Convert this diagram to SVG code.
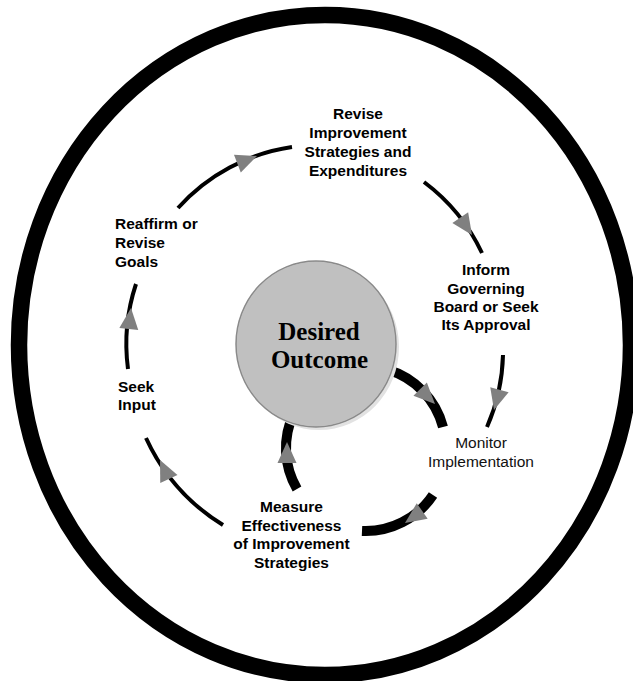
<svg xmlns="http://www.w3.org/2000/svg" xmlns:xlink="http://www.w3.org/1999/xlink" width="633" height="681" viewBox="0 0 633 681">
<style>
.lbl{font-family:"Liberation Sans",Arial,sans-serif;font-size:15.5px;font-weight:bold;fill:#000;text-anchor:middle}
.reg{font-weight:normal;fill:#111}
.left{text-anchor:start}
.thin{fill:none;stroke:#000;stroke-width:4}
.thick{fill:none;stroke:#000;stroke-width:10}
.ah{fill:#808080}
.big{font-family:"Liberation Serif","Times New Roman",serif;font-size:25px;font-weight:bold;fill:#000;text-anchor:middle}
</style>
<defs>
<path id="ah" d="M0,0 L-21,-9.5 L-21,9.5 Z"/>
</defs>
<rect width="633" height="681" fill="#fff"/>
<ellipse id="ring" cx="325" cy="345" rx="306" ry="330" fill="none" stroke="#000" stroke-width="16.5"/>
<g id="connectors">
<path class="thin" d="M178,208 A190,190 0 0 1 292,147"/>
<path class="thin" d="M424,182 A190,190 0 0 1 482,253"/>
<path class="thin" d="M503,355 A190,190 0 0 1 487,427"/>
<path class="thin" d="M223,525 A200,200 0 0 1 146,438"/>
<path class="thin" d="M128,369 A190,190 0 0 1 136,284"/>
<path class="thick" d="M388,369.8 A81,81 0 0 1 443,427"/>
<path class="thick" d="M433,495 A81,81 0 0 1 362,531"/>
<path class="thick" d="M297,489 A81,81 0 0 1 293.6,413.8"/>
<use xlink:href="#ah" class="ah" transform="translate(257,156) rotate(-21)"/>
<use xlink:href="#ah" class="ah" transform="translate(472,235) rotate(56)"/>
<use xlink:href="#ah" class="ah" transform="translate(494,410) rotate(105)"/>
<use xlink:href="#ah" class="ah" transform="translate(160,460) rotate(-115)"/>
<use xlink:href="#ah" class="ah" transform="translate(131,308) rotate(-84)"/>
<use xlink:href="#ah" class="ah" transform="translate(435,404) rotate(45)"/>
<use xlink:href="#ah" class="ah" transform="translate(405,523) rotate(145)"/>
<use xlink:href="#ah" class="ah" transform="translate(287,442) rotate(-90)"/>
</g>
<g id="desired">
<ellipse cx="319" cy="347" rx="80" ry="83" fill="#e2e2e2"/>
<ellipse cx="316" cy="344" rx="80" ry="83" fill="#c0c0c0" stroke="#8a8a8a" stroke-width="1.5"/>
<ellipse cx="316" cy="344" rx="79" ry="82" fill="#c0c0c0"/>
<text class="big" x="319" y="340">Desired</text>
<text class="big" x="319.5" y="368">Outcome</text>
</g>
<g id="revise">
<text class="lbl" x="358" y="119">Revise</text>
<text class="lbl" x="358" y="138">Improvement</text>
<text class="lbl" x="358" y="157">Strategies and</text>
<text class="lbl" x="358" y="176">Expenditures</text>
</g>
<g id="reaffirm">
<text class="lbl left" x="115" y="229">Reaffirm or</text>
<text class="lbl left" x="115" y="248">Revise</text>
<text class="lbl left" x="115" y="267">Goals</text>
</g>
<g id="inform">
<text class="lbl" x="486" y="275">Inform</text>
<text class="lbl" x="486" y="293.5">Governing</text>
<text class="lbl" x="486" y="312">Board or Seek</text>
<text class="lbl" x="486" y="330">Its Approval</text>
</g>
<g id="monitor">
<text class="lbl reg" x="481" y="448">Monitor</text>
<text class="lbl reg" x="481" y="467">Implementation</text>
</g>
<g id="seek">
<text class="lbl left" x="118" y="391.5">Seek</text>
<text class="lbl left" x="118" y="410">Input</text>
</g>
<g id="measure">
<text class="lbl" x="291.5" y="512">Measure</text>
<text class="lbl" x="291.5" y="530.5">Effectiveness</text>
<text class="lbl" x="291.5" y="549">of Improvement</text>
<text class="lbl" x="291.5" y="567.5">Strategies</text>
</g>
</svg>
